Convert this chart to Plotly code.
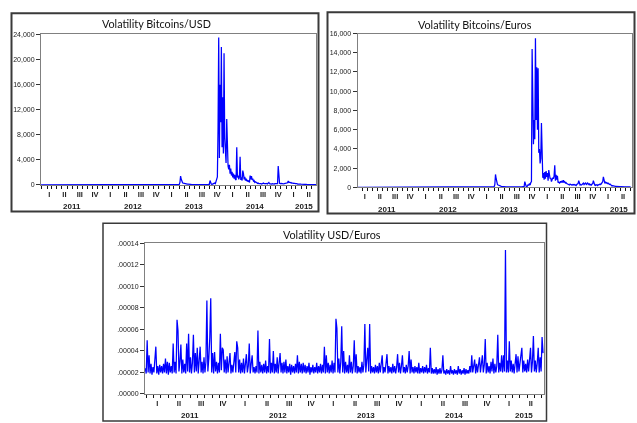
import pandas as pd
import plotly.graph_objects as go

# ---------------- data ----------------
# Bitcoin series: flat early part (sparse) + 4-day sampled part from 2013-03-21
btc_early_dates = ["2010-12-27", "2011-06-01", "2012-01-01", "2012-06-01", "2012-12-01", "2013-03-17"]
btc_usd_early = [10, 10, 15, 20, 30, 40]
btc_eur_early = [10, 10, 15, 20, 30, 30]
btc_dense_start = "2013-03-21"
btc_step = "4D"

btc_usd_vals = [
    40, 50, 60, 80, 400, 1400, 900, 500, 350, 300, 250, 200, 220, 150, 180, 120, 140, 100, 110, 90,
    90, 80, 70, 80, 60, 70, 60, 60, 70, 50, 60, 50, 60, 50, 50, 60, 50, 60, 50, 60,
    50, 60, 60, 70, 60, 80, 70, 90, 100, 700, 150, 120, 100, 150, 120, 180, 300, 200, 500, 1000,
    1300, 9000, 23500, 4300, 16000, 10000, 22000, 6000, 14000, 5000, 21000, 7500, 5000, 3500, 10500, 4000, 3000, 2500, 3200, 1800,
    2600, 1500, 2100, 1200, 1800, 1000, 1600, 900, 800, 6000, 1200, 1500, 900, 1300, 4500, 800, 1200, 700, 2300, 1800,
    900, 1300, 700, 1000, 600, 800, 500, 700, 400, 1500, 900, 1400, 800, 1000, 600, 700, 400, 500, 300, 350,
    250, 300, 200, 250, 180, 220, 150, 200, 250, 300, 200, 180, 150, 200, 250, 180, 300, 400, 200, 150,
    180, 150, 200, 150, 180, 150, 200, 180, 150, 200, 220, 3000, 400, 250, 200, 300, 250, 200, 250, 180,
    200, 250, 300, 250, 300, 350, 650, 400, 450, 350, 400, 300, 350, 300, 250, 300, 250, 200, 250, 200,
    150, 180, 150, 120, 150, 120, 100, 120, 100, 90, 100, 80, 90, 80, 70, 80, 70, 60, 70, 60,
    60, 50, 60, 50, 50, 60, 50, 40, 50,
]

btc_eur_vals = [
    30, 40, 50, 70, 300, 1350, 900, 450, 300, 250, 200, 180, 150, 140, 120, 100, 100, 90, 80, 80,
    70, 60, 60, 50, 60, 50, 50, 60, 50, 50, 60, 50, 50, 60, 50, 50, 60, 50, 50, 60,
    50, 60, 50, 60, 70, 60, 80, 70, 90, 600, 150, 120, 100, 150, 300, 200, 400, 250, 500, 600,
    14400, 8000, 4500, 7000, 5000, 15500, 7000, 12500, 6000, 12400, 3600, 4000, 2500, 3000, 6700, 1500, 1000, 1500, 800, 1600,
    900, 1700, 1100, 1500, 700, 1800, 1200, 900, 1000, 600, 800, 1000, 900, 1200, 2300, 700, 1300, 800, 1200, 500,
    600, 450, 500, 650, 500, 700, 500, 750, 550, 600, 450, 500, 400, 350, 300, 300, 250, 350, 300, 250,
    300, 250, 300, 250, 300, 250, 200, 300, 350, 400, 700, 350, 250, 300, 250, 300, 350, 450, 300, 400,
    450, 350, 300, 500, 350, 300, 400, 250, 300, 250, 350, 400, 700, 350, 250, 200, 300, 250, 200, 300,
    250, 300, 350, 300, 400, 500, 600, 1100, 700, 500, 550, 450, 500, 400, 450, 350, 300, 350, 250, 200,
    150, 180, 150, 120, 150, 100, 120, 100, 90, 100, 80, 90, 80, 70, 80, 70, 60, 70, 60, 60,
    50, 60, 50, 50, 60, 50, 40, 50, 40,
]

# USD/Euros volatility, in units of 1e-5, 4-day samples from 2010-12-27
fx_start = "2010-12-27"
fx_step = "4D"
usd_eur_e5 = [
    2.4, 1.9, 5.0, 2.0, 3.6, 1.9, 2.8, 1.8, 2.5, 2.0, 3.2, 4.4, 1.9, 2.6, 1.8, 2.7, 2.0, 2.6, 1.9, 2.8,
    2.0, 3.3, 1.9, 3.0, 1.8, 2.9, 2.0, 2.6, 1.9, 4.7, 2.0, 3.0, 1.9, 6.9, 5.9, 2.1, 3.0, 4.6, 1.9, 3.2,
    2.0, 2.8, 1.9, 4.7, 2.1, 5.6, 2.0, 3.4, 1.9, 2.9, 5.5, 2.0, 3.8, 2.1, 4.3, 1.9, 3.1, 4.4, 2.0, 3.0,
    1.9, 3.4, 2.0, 3.0, 8.7, 2.1, 3.3, 5.2, 8.9, 2.0, 3.8, 1.9, 3.9, 2.1, 3.0, 1.9, 2.9, 2.0, 5.6, 2.2,
    4.3, 4.1, 2.0, 3.2, 1.9, 3.5, 2.0, 2.8, 3.8, 1.9, 2.7, 2.0, 3.1, 3.9, 2.0, 4.9, 4.3, 2.0, 3.2, 1.9,
    2.9, 2.0, 3.3, 1.9, 2.8, 3.7, 2.0, 2.6, 4.7, 1.9, 2.8, 3.6, 2.0, 2.5, 1.9, 2.6, 2.0, 5.9, 1.9, 3.0,
    2.0, 2.7, 1.9, 2.8, 2.0, 3.1, 1.9, 2.6, 2.0, 5.1, 1.9, 2.9, 2.0, 4.0, 1.9, 2.8, 2.0, 3.4, 1.9, 2.7,
    3.8, 2.0, 2.9, 1.9, 3.0, 2.0, 3.2, 1.9, 2.6, 2.0, 2.8, 1.8, 2.7, 2.0, 2.6, 1.9, 2.8, 2.0, 3.6, 1.9,
    3.0, 2.0, 2.8, 1.9, 2.9, 2.0, 2.7, 1.9, 2.6, 2.0, 2.9, 1.8, 2.5, 2.0, 2.7, 1.9, 2.5, 2.0, 2.9, 1.9,
    2.6, 2.0, 2.8, 1.9, 2.7, 2.0, 4.4, 1.9, 3.6, 2.0, 2.9, 1.9, 2.7, 2.0, 3.1, 1.9, 2.9, 2.0, 7.0, 6.1,
    2.0, 3.3, 1.9, 3.0, 6.3, 2.0, 4.0, 1.9, 3.0, 2.0, 2.7, 1.9, 3.6, 2.0, 3.0, 1.9, 2.6, 5.0, 2.0, 3.7,
    1.9, 2.6, 2.0, 2.5, 1.9, 3.0, 2.0, 2.7, 6.5, 2.0, 3.6, 4.3, 2.1, 6.5, 1.9, 2.6, 2.0, 2.5, 1.9, 2.7,
    2.0, 2.6, 1.9, 2.9, 2.0, 2.6, 3.6, 1.9, 2.5, 2.0, 2.7, 3.7, 1.9, 2.6, 2.0, 2.5, 1.9, 2.8, 2.0, 2.6,
    1.9, 2.5, 3.7, 2.0, 2.9, 1.9, 2.6, 3.6, 2.0, 2.5, 1.9, 2.7, 2.0, 2.6, 4.0, 1.9, 3.2, 2.0, 2.5, 1.9,
    2.6, 2.0, 2.5, 1.9, 2.9, 1.9, 2.4, 2.0, 2.6, 1.9, 2.5, 2.0, 2.7, 1.9, 2.4, 2.0, 4.3, 1.9, 2.4, 1.9,
    2.3, 1.9, 2.5, 1.8, 2.3, 1.9, 2.4, 1.9, 2.2, 3.6, 1.9, 2.2, 1.8, 2.3, 1.9, 2.2, 1.8, 2.6, 1.9, 2.2,
    1.8, 2.3, 1.9, 2.2, 1.8, 2.6, 1.9, 2.3, 1.8, 2.2, 1.9, 2.4, 1.8, 2.3, 1.9, 2.2, 1.9, 2.6, 2.0, 3.6,
    2.0, 2.6, 3.2, 1.9, 2.8, 2.0, 2.6, 3.4, 2.0, 2.9, 3.6, 2.0, 2.7, 5.1, 1.9, 2.9, 2.0, 2.6, 1.9, 3.0,
    2.1, 3.3, 1.9, 2.8, 2.0, 2.6, 5.5, 2.0, 2.9, 2.1, 3.6, 2.0, 3.6, 2.1, 13.4, 2.0, 3.1, 2.0, 4.9, 2.1,
    3.1, 2.0, 2.8, 1.9, 3.0, 3.7, 2.0, 3.5, 2.1, 2.9, 4.0, 4.3, 2.0, 3.1, 2.1, 2.8, 2.0, 3.2, 2.1, 2.9,
    4.3, 2.0, 3.0, 5.4, 2.1, 3.1, 2.0, 2.9, 4.3, 2.0, 3.4, 2.1, 5.3, 3.8,
]

years = [2011, 2012, 2013, 2014, 2015]
year_label_dates = ["2011-07-01", "2012-07-01", "2013-07-01", "2014-07-01", "2015-04-19"]
quarter_names = ["I", "II", "III", "IV"]
quarter_mid_md = ["02-15", "05-16", "08-16", "11-15"]

btc_usd_ticks = [0, 4000, 8000, 12000, 16000, 20000, 24000]
btc_eur_ticks = [0, 2000, 4000, 6000, 8000, 10000, 12000, 14000, 16000]
usd_eur_ticks = [0, 2e-5, 4e-5, 6e-5, 8e-5, 10e-5, 12e-5, 14e-5]
usd_eur_ticktext = [".00000", ".00002", ".00004", ".00006", ".00008", ".00010", ".00012", ".00014"]

titles = ["Volatility Bitcoins/USD", "Volatility Bitcoins/Euros", "Volatility USD/Euros"]

# ---------------- build x values ----------------
dense_dates = list(pd.date_range(btc_dense_start, periods=len(btc_usd_vals), freq=btc_step))
btc_usd_x = list(pd.to_datetime(btc_early_dates)) + dense_dates
btc_usd_y = btc_usd_early + btc_usd_vals
dense_dates_e = list(pd.date_range(btc_dense_start, periods=len(btc_eur_vals), freq=btc_step))
btc_eur_x = list(pd.to_datetime(btc_early_dates)) + dense_dates_e
btc_eur_y = btc_eur_early + btc_eur_vals
fx_x = pd.date_range(fx_start, periods=len(usd_eur_e5), freq=fx_step)
fx_y = [v * 1e-5 for v in usd_eur_e5]

q_vals, q_text = [], []
for yr in years:
    for qn, md in zip(quarter_names, quarter_mid_md):
        if yr == 2015 and qn in ("III", "IV"):
            continue
        q_vals.append(f"{yr}-{md}")
        q_text.append(qn)
month_ticks = [d.strftime("%Y-%m-%d") for d in pd.date_range("2011-01-01", "2015-07-01", freq="MS")]

# ---------------- geometry ----------------
W, H = 637, 423
def px(x):
    return x / W
def py(y):
    return 1 - y / H

panels = [
    dict(box=(41, 31, 316, 184), frame=(11.5, 9.5, 318.5, 211), title_xy=(156.7, 20),
         xr=["2010-12-27", "2015-06-29"], year_y=205.5),
    dict(box=(357.5, 30, 631.5, 186.5), frame=(327.5, 8.5, 634.5, 213), title_xy=(475.5, 20.5),
         xr=["2011-01-02", "2015-07-06"], year_y=209),
    dict(box=(145, 243.5, 544, 396.5), frame=(103, 223, 546.5, 424), title_xy=(331.8, 234),
         xr=["2010-12-26", "2015-07-10"], year_y=418.5),
]

fig = go.Figure()
series = [(btc_usd_x, btc_usd_y), (btc_eur_x, btc_eur_y), (fx_x, fx_y)]
for i, (xs, ys) in enumerate(series):
    sfx = "" if i == 0 else str(i + 1)
    fig.add_trace(go.Scatter(
        x=xs, y=ys, mode="lines", line=dict(color="#0000ff", width=1.25),
        xaxis="x" + sfx, yaxis="y" + sfx, showlegend=False, hoverinfo="skip"))

ytick_font = dict(family="Liberation Sans, Arial, sans-serif", size=7, color="#222")
xtick_font = dict(family="Liberation Sans, Arial, sans-serif", size=7.5, color="#222", weight="bold")
year_font = dict(family="Liberation Sans, Arial, sans-serif", size=8, color="#222", weight="bold")
axis_line = "#808080"
layout = dict(
    width=W, height=H, margin=dict(l=0, r=0, t=0, b=0),
    paper_bgcolor="white", plot_bgcolor="white", showlegend=False,
    shapes=[], annotations=[],
)

yspecs = [
    dict(range=[0, 24000], tickvals=btc_usd_ticks, tickformat=","),
    dict(range=[0, 16000], tickvals=btc_eur_ticks, tickformat=","),
    dict(range=[0, 14e-5], tickvals=usd_eur_ticks, ticktext=usd_eur_ticktext),
]

for i, p in enumerate(panels):
    sfx = "" if i == 0 else str(i + 1)
    l, t, r, b = p["box"]
    layout["xaxis" + sfx] = dict(
        domain=[px(l), px(r)], anchor="y" + sfx, type="date", range=p["xr"],
        tickmode="array", tickvals=q_vals, ticktext=q_text, ticks="",
        ticklabelstandoff=2,
        minor=dict(tickmode="array", tickvals=month_ticks, ticks="outside", ticklen=3,
                   tickcolor="#111", tickwidth=1),
        showgrid=False, zeroline=False, showline=True, mirror=True,
        linecolor=axis_line, linewidth=1, tickfont=xtick_font, fixedrange=True,
    )
    ys = dict(
        domain=[py(b), py(t)], anchor="x" + sfx, ticks="outside", ticklen=4,
        tickcolor="#333", showgrid=False, zeroline=False, showline=True, mirror=True,
        linecolor=axis_line, linewidth=1, tickfont=ytick_font, fixedrange=True,
    )
    ys.update(yspecs[i])
    if "ticktext" in ys:
        ys["tickmode"] = "array"
    layout["yaxis" + sfx] = ys

    fl, ft, fr, fb = p["frame"]
    layout["shapes"].append(dict(
        type="rect", xref="paper", yref="paper", x0=px(fl), x1=px(fr), y0=py(fb), y1=py(ft),
        line=dict(color="#3a3a3a", width=2 if i < 2 else 1.5), fillcolor="rgba(0,0,0,0)", layer="above"))
    tx, ty = p["title_xy"]
    layout["annotations"].append(dict(
        text=titles[i], xref="paper", yref="paper", x=px(tx), y=py(ty),
        xanchor="center", yanchor="middle", showarrow=False,
        font=dict(family="Lato, Open Sans, sans-serif", size=10.8, color="#111")))
    for yr, d in zip(years, year_label_dates):
        layout["annotations"].append(dict(
            text=str(yr), xref="x" + sfx, yref="paper", x=d, y=py(p["year_y"]),
            xanchor="center", yanchor="middle", showarrow=False, font=year_font))

fig.update_layout(**layout)
post = (
    "document.body.style.margin='0px';"
    "document.body.style.overflow='hidden';"
    "document.querySelectorAll('text').forEach(function(t){t.style.filter='grayscale(1)';});"
)
fig.write_html("out.html", config={"displayModeBar": False}, post_script=post)
